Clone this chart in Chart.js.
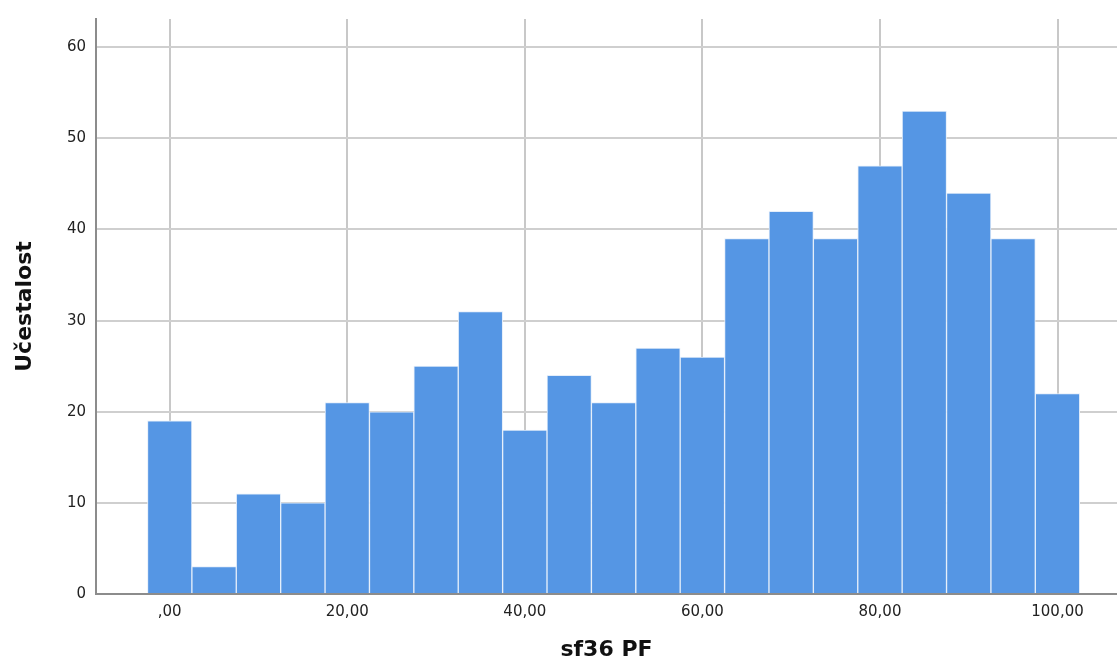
<!DOCTYPE html>
<html>
<head>
<meta charset="utf-8">
<script src="https://cdn.jsdelivr.net/npm/chart.js@4/dist/chart.umd.min.js"></script>
<style>
  html, body { margin: 0; padding: 0; background: #fff; }
  #wrap { width: 1117px; height: 664px; }
</style>
</head>
<body>
<div id="wrap"><canvas id="histChart" width="1117" height="664"></canvas></div>
<script>
// bin centres (sf36 PF) and counts
const binCenters = [0, 5, 10, 15, 20, 25, 30, 35, 40, 45, 50, 55, 60, 65, 70, 75, 80, 85, 90, 95, 100];
const counts = [19, 3, 11, 10, 21, 20, 25, 31, 18, 24, 21, 27, 26, 39, 42, 39, 47, 53, 44, 39, 22];
const xTicks = [0, 20, 40, 60, 80, 100];
const yTicks = [0, 10, 20, 30, 40, 50, 60];

document.addEventListener("DOMContentLoaded", function () {
    const ctx = document.getElementById('histChart');
    const tickFont = '"DejaVu Sans", sans-serif';
    const titleFont = '"DejaVu Sans", sans-serif';
    new Chart(ctx, {
        type: 'bar',
        data: {
            datasets: [{
                label: 'Učestalost',
                data: binCenters.map((x, i) => ({ x: x, y: counts[i] })),
                backgroundColor: '#5596e4',
                borderColor: '#e4eefa',
                borderWidth: 1,
                barPercentage: 1,
                categoryPercentage: 1
            }]
        },
        options: {
            responsive: false,
            animation: false,
            layout: { padding: { top: 16, right: 0, left: 0, bottom: 0 } },
            plugins: {
                legend: { display: false },
                tooltip: { enabled: false }
            },
            scales: {
                x: {
                    type: 'linear',
                    offset: false,
                    min: -8.3,
                    max: 106.7,
                    afterBuildTicks: s => { s.ticks = xTicks.map(v => ({ value: v })); },
                    afterFit: s => { s.height = 70; },
                    grid: { color: '#c8c8c8', lineWidth: 2, drawTicks: false, offset: false },
                    border: { color: '#8c8c8c', width: 2 },
                    ticks: {
                        padding: 9,
                        color: '#222',
                        font: { family: tickFont, size: 15 },
                        maxRotation: 0,
                        callback: v => (v === 0 ? ',00' : v + ',00')
                    },
                    title: {
                        display: true,
                        text: 'sf36 PF',
                        color: '#111',
                        padding: { top: 0, bottom: 1 },
                        font: { family: titleFont, size: 22, weight: 'bold' }
                    }
                },
                y: {
                    min: 0,
                    max: 63.1,
                    afterBuildTicks: s => { s.ticks = yTicks.map(v => ({ value: v })); },
                    afterFit: s => { s.width = 96; },
                    grid: { color: '#cfcfcf', lineWidth: 2, drawTicks: false },
                    border: { color: '#8c8c8c', width: 2 },
                    ticks: {
                        padding: 10,
                        color: '#222',
                        font: { family: tickFont, size: 15 }
                    },
                    title: {
                        display: true,
                        text: 'Učestalost',
                        color: '#111',
                        padding: { top: 12, bottom: 0 },
                        font: { family: titleFont, size: 22, weight: 'bold' }
                    }
                }
            }
        }
    });
});
</script>
</body>
</html>
